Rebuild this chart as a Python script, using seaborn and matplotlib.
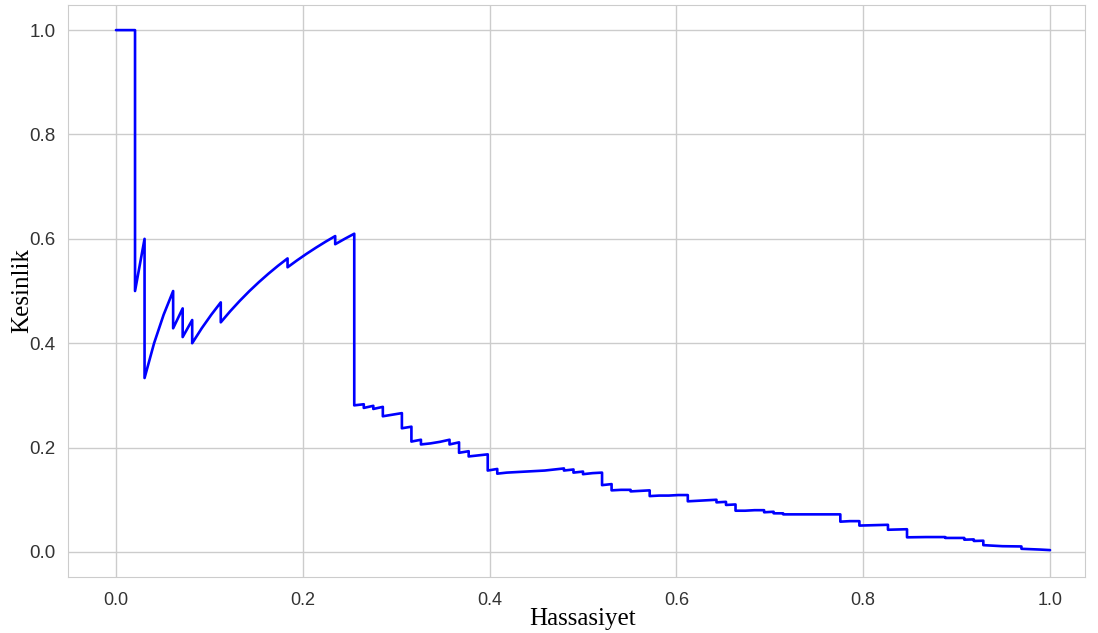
import matplotlib
matplotlib.use("Agg")
import matplotlib.pyplot as plt
import seaborn as sns
import pandas as pd

# Precision-recall curve vertices (recall, precision)
recall = [
    0.0, 0.0102, 0.0204, 0.0204, 0.0306, 0.0306, 0.0408, 0.0510, 0.0612, 0.0612,
    0.0714, 0.0714, 0.0816, 0.0816, 0.0918, 0.1020, 0.1122, 0.1122,
    0.1224, 0.1327, 0.1429, 0.1531, 0.1633, 0.1735, 0.1837, 0.1837,
    0.1939, 0.2041, 0.2143, 0.2245, 0.2347, 0.2347, 0.2449, 0.2551, 0.2551,
    0.2653, 0.2653, 0.2755, 0.2755, 0.2857, 0.2857, 0.2959, 0.3061, 0.3061,
    0.3163, 0.3163, 0.3265, 0.3265, 0.3367, 0.3469, 0.3571, 0.3571,
    0.3673, 0.3673, 0.3776, 0.3776, 0.3878, 0.3980, 0.3980, 0.4082, 0.4082,
    0.4184, 0.4286, 0.4388, 0.4490, 0.4592, 0.4694, 0.4796, 0.4796,
    0.4898, 0.4898, 0.5000, 0.5000, 0.5102, 0.5204, 0.5204, 0.5306, 0.5306,
    0.5408, 0.5510, 0.5510, 0.5612, 0.5714, 0.5714, 0.5816, 0.5918, 0.6020,
    0.6122, 0.6122, 0.6224, 0.6327, 0.6429, 0.6429, 0.6531, 0.6531, 0.6633, 0.6633,
    0.6735, 0.6837, 0.6939, 0.6939, 0.7041, 0.7041, 0.7143, 0.7143, 0.7347,
    0.7551, 0.7755, 0.7755, 0.7857, 0.7959, 0.7959, 0.8061, 0.8163, 0.8265, 0.8265,
    0.8367, 0.8469, 0.8469, 0.8673, 0.8878, 0.8878, 0.9082, 0.9082, 0.9184, 0.9184,
    0.9286, 0.9286, 0.9490, 0.9694, 0.9694, 0.9898, 1.0,
]
precision = [
    1.0, 1.0, 1.0, 0.5000, 0.6000, 0.3333, 0.4000, 0.4545, 0.5000, 0.4286,
    0.4667, 0.4118, 0.4444, 0.4000, 0.4286, 0.4545, 0.4783, 0.4400,
    0.4615, 0.4815, 0.5000, 0.5172, 0.5333, 0.5484, 0.5625, 0.5455,
    0.5588, 0.5714, 0.5833, 0.5946, 0.6053, 0.5897, 0.6000, 0.6098, 0.2809,
    0.2830, 0.2760, 0.2800, 0.2740, 0.2780, 0.2600, 0.2630, 0.2660, 0.2370,
    0.2400, 0.2115, 0.2150, 0.2060, 0.2080, 0.2110, 0.2150, 0.2060,
    0.2100, 0.1900, 0.1930, 0.1830, 0.1850, 0.1870, 0.1560, 0.1590, 0.1500,
    0.1520, 0.1530, 0.1540, 0.1550, 0.1560, 0.1580, 0.1600, 0.1560,
    0.1580, 0.1520, 0.1540, 0.1490, 0.1510, 0.1520, 0.1280, 0.1300, 0.1180,
    0.1190, 0.1190, 0.1160, 0.1170, 0.1180, 0.1070, 0.1080, 0.1080, 0.1090,
    0.1090, 0.0970, 0.0980, 0.0990, 0.1000, 0.0950, 0.0960, 0.0900, 0.0910, 0.0790,
    0.0790, 0.0800, 0.0800, 0.0760, 0.0770, 0.0740, 0.0740, 0.0720, 0.0720,
    0.0720, 0.0720, 0.0580, 0.0590, 0.0590, 0.0505, 0.0510, 0.0515, 0.0520, 0.0425,
    0.0430, 0.0435, 0.0280, 0.0285, 0.0285, 0.0268, 0.0268, 0.0235, 0.0240, 0.0210,
    0.0215, 0.0130, 0.0110, 0.0105, 0.0060, 0.0045, 0.0035,
]

x_ticks = [0.0, 0.2, 0.4, 0.6, 0.8, 1.0]
y_ticks = [0.0, 0.2, 0.4, 0.6, 0.8, 1.0]

df = pd.DataFrame({"Hassasiyet": recall, "Kesinlik": precision})

sns.set_style("whitegrid")
fig = plt.figure(figsize=(10.98, 6.33), dpi=100)
ax = fig.add_axes([0.0619, 0.0885, 0.9263, 0.9035])

sns.lineplot(data=df, x="Hassasiyet", y="Kesinlik", sort=False, estimator=None,
             color="blue", linewidth=1.9, ax=ax)

ax.set_xlim(-0.0514, 1.0375)
ax.set_ylim(-0.048, 1.048)
ax.set_xticks(x_ticks)
ax.set_yticks(y_ticks)
tick_fam = ["Liberation Sans", "DejaVu Sans"]
ax.set_xticklabels([f"{t:.1f}" for t in x_ticks], fontsize=13, family=tick_fam, color="#333333")
ax.set_yticklabels([f"{t:.1f}" for t in y_ticks], fontsize=13.5, family=tick_fam, color="#333333")
ax.tick_params(axis="y", pad=5.5)
ax.tick_params(axis="x", pad=7)
lab_fam = ["Liberation Serif", "DejaVu Serif"]
ax.set_xlabel("Hassasiyet", fontsize=18, family=lab_fam, color="black", labelpad=0)
ax.set_ylabel("Kesinlik", fontsize=18, family=lab_fam, color="black")
ax.yaxis.set_label_coords(-0.0337, 0.5)
ax.xaxis.set_label_coords(0.5055, -0.055)
ax.grid(True, color="#cccccc", linewidth=1)
for s in ax.spines.values():
    s.set_color("#cccccc")

fig.savefig("out.png", dpi=100)
